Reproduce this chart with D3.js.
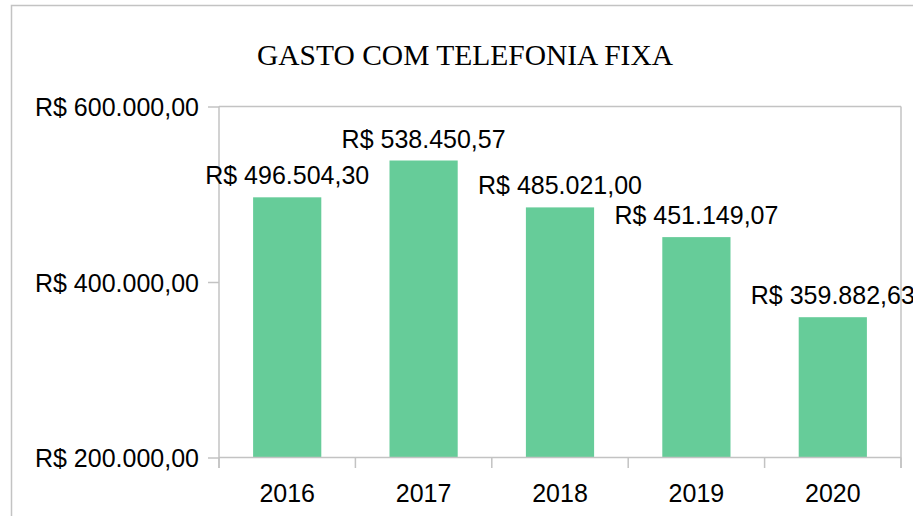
<!DOCTYPE html>
<html>
<head>
<meta charset="utf-8">
<script src="https://cdn.jsdelivr.net/npm/d3@7"></script>
<style>
  html, body { margin: 0; padding: 0; background: #fff; overflow: hidden; }
  svg { display: block; }
</style>
</head>
<body>
<svg id="chart"></svg>
<script>
// dados do gráfico
const years = ['2016', '2017', '2018', '2019', '2020'];
const gastos = [496504.30, 538450.57, 485021.00, 451149.07, 359882.63];
const yTicks = [200000, 400000, 600000];
const title = 'GASTO COM TELEFONIA FIXA';

const W = 913, H = 516;
const margin = {top: 106.5, right: 12, bottom: 58.5, left: 219};
const lineColor = '#c3c3c3';
const barColor = '#66cc99';

const svg = d3.select('#chart').attr('width', W).attr('height', H);

// borda externa
svg.append('rect')
  .attr('x', 11.5).attr('y', 5.5)
  .attr('width', W + 20).attr('height', H + 20)
  .attr('fill', 'none').attr('stroke', lineColor).attr('stroke-width', 1.5);

// título
svg.append('text')
  .attr('x', 465).attr('y', 65)
  .attr('text-anchor', 'middle')
  .attr('font-family', '"Liberation Serif", "Times New Roman", serif')
  .attr('font-size', 29.5)
  .attr('fill', '#000')
  .text(title);

const x = d3.scaleBand()
  .domain(years)
  .range([margin.left, W - margin.right])
  .paddingInner(0.5).paddingOuter(0.25);

const y = d3.scaleLinear()
  .domain([200000, 600000])
  .range([H - margin.bottom, margin.top]);

const fmt = v => 'R$ ' + v.toLocaleString('pt-BR', {minimumFractionDigits: 2, maximumFractionDigits: 2});

// moldura da área do gráfico (topo e direita)
const x0 = margin.left, x1 = W - margin.right;
svg.append('line')
  .attr('x1', x0).attr('x2', x1).attr('y1', y(600000)).attr('y2', y(600000))
  .attr('stroke', lineColor).attr('stroke-width', 1.5);
svg.append('line')
  .attr('x1', x1).attr('x2', x1).attr('y1', y(600000)).attr('y2', y(200000) + 10.5)
  .attr('stroke', lineColor).attr('stroke-width', 1.5);

// barras
svg.append('g').selectAll('rect')
  .data(gastos)
  .join('rect')
  .attr('x', (d, i) => x(years[i]))
  .attr('width', x.bandwidth())
  .attr('y', d => y(d))
  .attr('height', d => y(200000) - y(d))
  .attr('fill', barColor);

// eixo y
const yAxis = d3.axisLeft(y)
  .tickValues(yTicks)
  .tickSize(11)
  .tickPadding(9)
  .tickFormat(fmt);
const gy = svg.append('g')
  .attr('transform', `translate(${x0},0)`)
  .call(yAxis);
gy.select('.domain').remove();
gy.append('line')
  .attr('x1', 0).attr('x2', 0).attr('y1', y(600000)).attr('y2', y(200000) + 10.5)
  .attr('stroke', lineColor).attr('stroke-width', 1.5);
gy.selectAll('.tick line').attr('stroke', lineColor).attr('stroke-width', 1.5);
gy.selectAll('.tick text')
  .attr('font-family', '"Liberation Sans", Arial, sans-serif')
  .attr('font-size', 25)
  .attr('fill', '#000')
  .attr('dy', '0.36em');

// eixo x
const xAxis = d3.axisBottom(x).tickSize(0).tickPadding(0);
const gx = svg.append('g')
  .attr('transform', `translate(0,${y(200000)})`)
  .call(xAxis);
gx.select('.domain').remove();
gx.append('line')
  .attr('x1', x0).attr('x2', x1).attr('y1', 0).attr('y2', 0)
  .attr('stroke', lineColor).attr('stroke-width', 1.5);
const step = x.step();
gx.selectAll('.sep')
  .data(d3.range(years.length + 1))
  .join('line')
  .attr('class', 'sep')
  .attr('x1', i => x0 + i * step).attr('x2', i => x0 + i * step)
  .attr('y1', 0).attr('y2', 10.5)
  .attr('stroke', lineColor).attr('stroke-width', 1.5);
gx.selectAll('.tick text')
  .attr('font-family', '"Liberation Sans", Arial, sans-serif')
  .attr('font-size', 25)
  .attr('fill', '#000')
  .attr('dy', 0)
  .attr('y', 44);

// rótulos de valores
svg.append('g').selectAll('text')
  .data(gastos)
  .join('text')
  .attr('x', (d, i) => x(years[i]) + x.bandwidth() / 2)
  .attr('y', d => y(d) - 13)
  .attr('text-anchor', 'middle')
  .attr('font-family', '"Liberation Sans", Arial, sans-serif')
  .attr('font-size', 25)
  .attr('fill', '#000')
  .text(fmt);
</script>
</body>
</html>
